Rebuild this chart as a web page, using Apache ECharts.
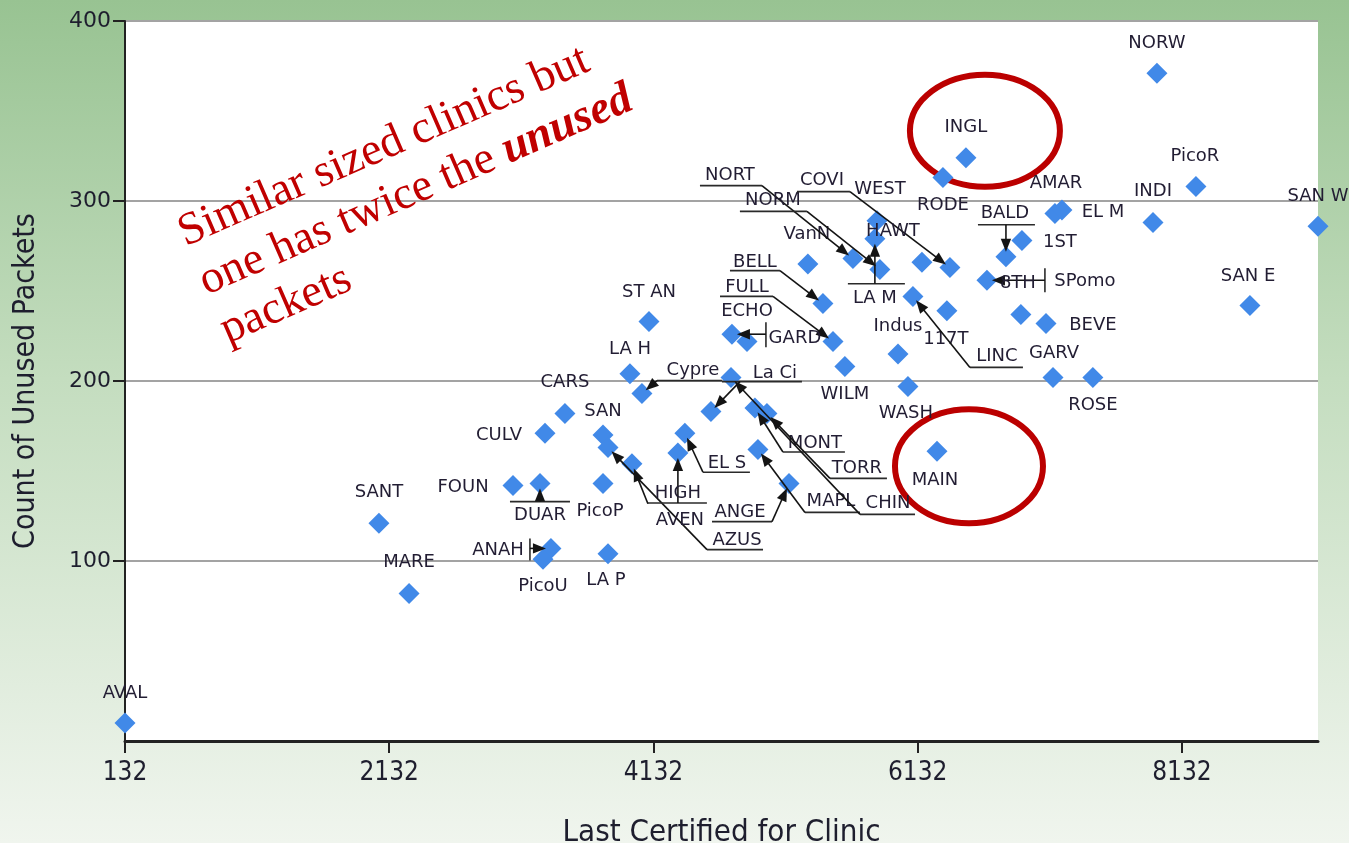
<!DOCTYPE html>
<html><head><meta charset="utf-8">
<script src="https://cdn.jsdelivr.net/npm/echarts@6/dist/echarts.min.js"></script>
<style>html,body{margin:0;padding:0;overflow:hidden}#c{width:1349px;height:843px}</style>
</head><body><div id="c"></div>
<script>
// ---------------- DATA ----------------
const clinicNames = ['AVAL','SANT','MARE','CULV','CARS','FOUN','DUAR','ANAH','PicoU','PicoP','LA P','SAN','AZUS','LA H','Cypre','ST AN','AVEN','EL S','HIGH','ANGE','MAPL','La Ci','MONT','TORR','CHIN','VanN','NORT','NORM','COVI','WEST','LA M','BELL','FULL','ECHO','GARD','WILM','Indus','WASH','MAIN','117T','LINC','HAWT','RODE','INGL','BALD','1ST','SPomo','8TH','AMAR','EL M','BEVE','GARV','ROSE','NORW','PicoR','INDI','SAN W','SAN E'];
const lastCertified = [132,2054,2282,3311,3462,3069,3273,3356,3296,3750,3788,3750,3788,3954,4045,4098,3969,4370,4317,5158,4923,4567,4900,4991,4719,5301,5642,5846,6376,5824,5808,5415,5491,4840,4726,5581,5983,6058,6278,6353,6096,6164,6323,6497,6800,6921,6656,6913,7171,7224,7103,7156,7458,7943,8238,7913,9162,8647];
const unusedPackets = [10,121,82,171,182,142,143,107,101,143,104,170,163,204,193,233,154,171,160,143,162,183,185,182,202,265,268,262,263,289,279,243,222,222,226,208,215,197,161,239,247,266,313,324,269,278,256,237,293,295,232,202,202,371,308,288,286,242];
const xTickValues = [132, 2132, 4132, 6132, 8132];
const yTickInterval = 100;
const xTitle = 'Last Certified for Clinic';
const yTitle = 'Count of Unused Packets';
const noteLines = ['Similar sized clinics but', 'one has twice the {u|unused}', 'packets'];
const circled = ['INGL', 'MAIN'];

// ---------------- LABEL LAYOUT (pixel offsets from each marker; styling only) ----------------
// t: text centre, u: underline [x1,x2,y], b: bar [x,y1,y2], l: leader start, e: ellipse [dx,dy,rx,ry]
const LAYOUT = {
  'AVAL':{t:[0,-30]}, 'SANT':{t:[0,-31]}, 'MARE':{t:[0,-31]}, 'CULV':{t:[-46,2]}, 'CARS':{t:[0,-31]},
  'FOUN':{t:[-50,2]}, 'DUAR':{t:[0,32],u:[-30,30,18],l:[0,18]}, 'ANAH':{t:[-53,2],b:[-21,-10,12],l:[-21,0]},
  'PicoU':{t:[0,27]}, 'PicoP':{t:[-3,28]}, 'LA P':{t:[-2,27]}, 'SAN':{t:[0,-24]},
  'AZUS':{t:[129,93],u:[99,155,102],l:[99,102]}, 'LA H':{t:[0,-24]},
  'Cypre':{t:[51,-23],u:[15,80,-13],l:[15,-13]}, 'ST AN':{t:[0,-29]}, 'AVEN':{t:[48,57],l:[16,40]},
  'HIGH':{t:[0,40],u:[-30,29,50],l:[0,50]}, 'EL S':{t:[42,30],u:[18,65,39],l:[18,39]},
  'ANGE':{t:[-49,29],u:[-77,-17,38],l:[-17,38]}, 'MAPL':{t:[73,52],u:[47,102,63],l:[47,63]},
  'CHIN':{t:[157,126],u:[129,184,137],l:[129,137]}, 'TORR':{t:[90,55],u:[63,120,65],l:[63,65]},
  'MONT':{t:[60,35],u:[28,90,44],l:[28,44]}, 'La Ci':{t:[64,-38],u:[11,91,-30],l:[29,-30]},
  'VanN':{t:[-1,-30]}, 'NORT':{t:[-123,-83],u:[-153,-91,-73],l:[-91,-73]},
  'NORM':{t:[-107,-69],u:[-140,-73,-58],l:[-73,-58]}, 'COVI':{t:[-128,-87],u:[-153,-100,-76],l:[-100,-76]},
  'WEST':{t:[3,-31]}, 'LA M':{t:[0,60],u:[-27,30,45],l:[0,45]},
  'BELL':{t:[-68,-41],u:[-93,-43,-33],l:[-43,-33]}, 'FULL':{t:[-86,-54],u:[-113,-60,-45],l:[-60,-45]},
  'ECHO':{t:[0,-30]}, 'GARD':{t:[63,4],b:[34,-12,13],l:[34,0]}, 'WILM':{t:[0,28]}, 'Indus':{t:[0,-28]},
  'WASH':{t:[-2,27]}, 'MAIN':{t:[-2,29],e:[32,15,74,57]}, '117T':{t:[-1,29]},
  'LINC':{t:[84,60],u:[57,110,71],l:[57,71]}, 'HAWT':{t:[-29,-31]}, 'RODE':{t:[0,28]},
  'INGL':{t:[0,-30],e:[19,-27,75,56]}, 'BALD':{t:[-1,-43],u:[-28,29,-32],l:[0,-32]}, '1ST':{t:[38,2]},
  'SPomo':{t:[98,1],b:[58,-12,12],l:[58,0]}, '8TH':{t:[-3,-31]}, 'AMAR':{t:[1,-30]}, 'EL M':{t:[41,2]},
  'BEVE':{t:[47,2]}, 'GARV':{t:[1,-24]}, 'ROSE':{t:[0,28]}, 'NORW':{t:[0,-30]}, 'PicoR':{t:[-1,-30]},
  'INDI':{t:[0,-31]}, 'SAN W':{t:[0,-30]}, 'SAN E':{t:[-2,-29]}
};

const points = clinicNames.map((n, i) => [lastCertified[i], unusedPackets[i], i]);
const INK = '#141414';
const LABEL_FONT = '18px "DejaVu Sans"';

function renderCallout(params, api) {
  const i = api.value(2);
  const name = clinicNames[i];
  const P = api.coord([api.value(0), api.value(1)]);
  const L = LAYOUT[name] || {t:[0,-30]};
  const ch = [];
  if (L.u) ch.push({type:'line', shape:{x1:P[0]+L.u[0], y1:P[1]+L.u[2], x2:P[0]+L.u[1], y2:P[1]+L.u[2]}, style:{stroke:'#2a2a2a', lineWidth:1.6}});
  if (L.b) ch.push({type:'line', shape:{x1:P[0]+L.b[0], y1:P[1]+L.b[1], x2:P[0]+L.b[0], y2:P[1]+L.b[2]}, style:{stroke:'#2a2a2a', lineWidth:1.6}});
  if (L.l) {
    const S = [P[0]+L.l[0], P[1]+L.l[1]];
    const dx = P[0]-S[0], dy = P[1]-S[1];
    const len = Math.hypot(dx, dy) || 1;
    const ux = dx/len, uy = dy/len, px = -uy, py = ux;
    const tip = [P[0]-ux*5, P[1]-uy*5];
    const base = [tip[0]-ux*13, tip[1]-uy*13];
    ch.push({type:'line', shape:{x1:S[0], y1:S[1], x2:base[0]+ux*2, y2:base[1]+uy*2}, style:{stroke:INK, lineWidth:1.6}});
    ch.push({type:'polygon', shape:{points:[tip, [base[0]+px*5.2, base[1]+py*5.2], [base[0]-px*5.2, base[1]-py*5.2]]}, style:{fill:INK}});
  }
  ch.push({type:'text', style:{text:name, x:P[0]+L.t[0], y:P[1]+L.t[1], align:'center', verticalAlign:'middle', font:LABEL_FONT, fill:'#221d33'}});
  return {type:'group', children:ch};
}

function renderRing(params, api) {
  const i = api.value(2);
  const name = clinicNames[i];
  if (circled.indexOf(name) < 0) return null;
  const P = api.coord([api.value(0), api.value(1)]);
  const e = LAYOUT[name].e;
  return {type:'ellipse', shape:{cx:P[0]+e[0], cy:P[1]+e[1], rx:e[2], ry:e[3]}, style:{fill:null, stroke:'#bb0000', lineWidth:6}};
}

const chart = echarts.init(document.getElementById('c'), null, {renderer:'canvas'});
chart.setOption({
  animation:false,
  backgroundColor:{type:'linear', x:0, y:0, x2:0, y2:1, colorStops:[
    {offset:0, color:'#98c392'}, {offset:0.45, color:'#c4ddbf'}, {offset:1, color:'#f0f5ee'}]},
  grid:{left:125, right:31, top:21, bottom:102, show:true, backgroundColor:'#ffffff', borderWidth:0, containLabel:false, outerBoundsMode:'none'},
  xAxis:{
    type:'value', min:132, max:9162,
    axisLine:{onZero:false, lineStyle:{color:'#222', width:3}},
    axisTick:{show:true, customValues:xTickValues, length:12, lineStyle:{color:'#222', width:2}},
    axisLabel:{customValues:xTickValues, formatter:v => String(Math.round(v)), margin:19, color:'#1e1e2e', fontFamily:"'Liberation Sans Narrow','DejaVu Sans Condensed'", fontSize:26},
    splitLine:{show:false},
    name:xTitle, nameLocation:'middle', nameGap:76,
    nameTextStyle:{fontFamily:"'DejaVu Sans Condensed'", fontSize:31, color:'#1e1e2e'}
  },
  yAxis:{
    type:'value', min:0, max:400, interval:yTickInterval,
    axisLine:{show:true, lineStyle:{color:'#222', width:2}},
    axisTick:{show:true, length:12, lineStyle:{color:'#222', width:2}},
    axisLabel:{showMinLabel:false, margin:14, color:'#1e1e2e', fontFamily:"'DejaVu Sans'", fontSize:22},
    splitLine:{show:true, lineStyle:{color:'#a3a3a3', width:2}},
    name:yTitle, nameLocation:'middle', nameRotate:90, nameGap:84,
    nameTextStyle:{fontFamily:"'DejaVu Sans Condensed'", fontSize:30, color:'#1e1e2e'}
  },
  graphic:[{
    type:'text', x:170, y:211, rotation:23.5*Math.PI/180, z:10,
    style:{
      text:noteLines.join('\n'),
      font:'46px "Liberation Serif"', fill:'#c00000', lineHeight:53,
      align:'left', verticalAlign:'top',
      rich:{u:{fontFamily:'Liberation Serif', fontSize:46, fontStyle:'italic', fontWeight:'bold', fill:'#c00000', lineHeight:53}}
    }
  }],
  series:[
    {type:'custom', renderItem:renderRing, data:points, z:1, silent:true, encode:{x:0, y:1}},
    {type:'scatter', data:points, symbol:'diamond', symbolSize:21, itemStyle:{color:'#4189e8', opacity:1}, z:2, encode:{x:0, y:1}},
    {type:'custom', renderItem:renderCallout, data:points, z:3, silent:true, encode:{x:0, y:1}}
  ]
});
</script></body></html>
